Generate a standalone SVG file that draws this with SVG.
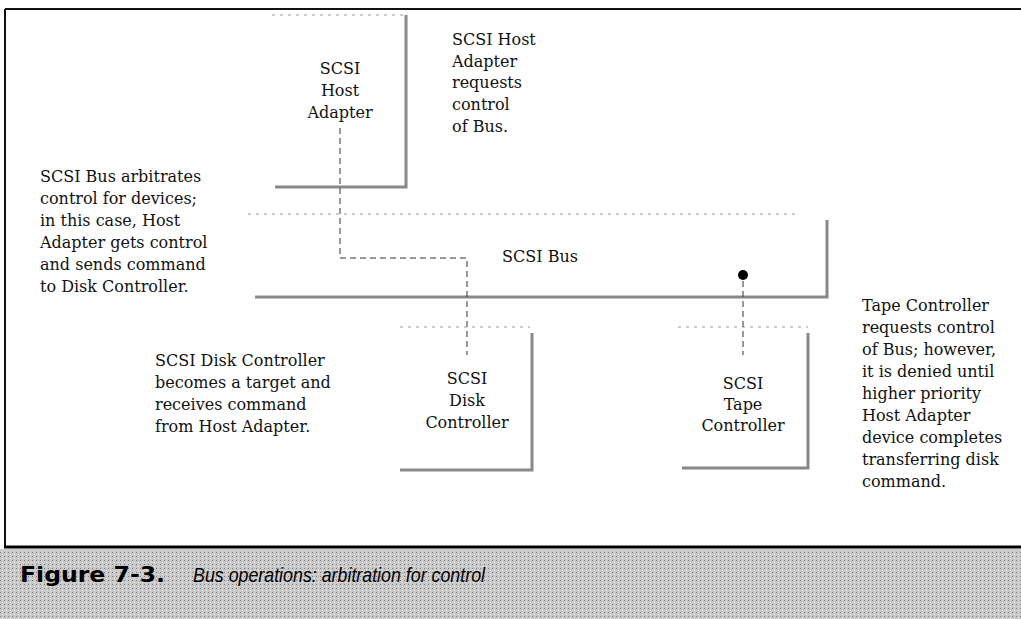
<svg xmlns="http://www.w3.org/2000/svg" width="1021" height="619" viewBox="0 0 1021 619">
<defs>
<style>
.t{font-family:"DejaVu Serif","Liberation Serif",serif;font-size:16px;fill:#111}
.c{text-anchor:middle}
.dot{stroke:#9a9a9a;stroke-width:1;stroke-dasharray:3 5;fill:none}
.sh{stroke:#888;stroke-width:3;fill:none}
.dash{stroke:#333;stroke-width:1;stroke-dasharray:6 4;fill:none}
.cap1{font-family:"DejaVu Sans","Liberation Sans",sans-serif;font-weight:bold;font-size:22px;fill:#000}
.cap2{font-family:"Liberation Sans","Arial",sans-serif;font-style:italic;font-size:21px;fill:#000}
</style>
<pattern id="ht" width="4" height="4" patternUnits="userSpaceOnUse">
<rect width="4" height="4" fill="#c8c8c8"/>
<rect x="0" y="0" width="1" height="1" fill="#7c7c7c"/>
<rect x="2" y="2" width="1" height="1" fill="#ececec"/>
</pattern>
</defs>
<rect width="1021" height="619" fill="#fff"/>
<g id="frame">
<line x1="5" y1="9" x2="1021" y2="9" stroke="#111" stroke-width="2"/>
<line x1="5" y1="9" x2="5" y2="548" stroke="#111" stroke-width="2"/>
</g>
<g id="caption">
<rect x="0" y="549" width="1021" height="70" fill="url(#ht)"/>
<line x1="4" y1="547" x2="1021" y2="547" stroke="#000" stroke-width="3"/>
<text class="cap1" x="20" y="582" textLength="145" lengthAdjust="spacingAndGlyphs">Figure 7-3.</text>
<text class="cap2" x="193" y="582" textLength="292" lengthAdjust="spacingAndGlyphs">Bus operations: arbitration for control</text>
</g>
<g id="host-adapter">
<line class="dot" x1="272" y1="15" x2="405" y2="15"/>
<path class="sh" d="M406,15 V187 H275"/>
<text class="t c" x="340" y="74">SCSI</text>
<text class="t c" x="340" y="96">Host</text>
<text class="t c" x="340" y="118">Adapter</text>
</g>
<g id="host-note">
<text class="t" x="452" y="45">SCSI Host</text>
<text class="t" x="452" y="67">Adapter</text>
<text class="t" x="452" y="88">requests</text>
<text class="t" x="452" y="110">control</text>
<text class="t" x="452" y="132">of Bus.</text>
</g>
<g id="scsi-bus">
<line class="dot" x1="248" y1="214" x2="800" y2="214"/>
<path class="sh" d="M827,220 V297 H255"/>
<text class="t c" x="540" y="262">SCSI Bus</text>
<circle cx="743" cy="275" r="5" fill="#000"/>
</g>
<g id="bus-note">
<text class="t" x="40" y="182">SCSI Bus arbitrates</text>
<text class="t" x="40" y="204">control for devices;</text>
<text class="t" x="40" y="226">in this case, Host</text>
<text class="t" x="40" y="248">Adapter gets control</text>
<text class="t" x="40" y="270">and sends command</text>
<text class="t" x="40" y="292">to Disk Controller.</text>
</g>
<g id="disk-controller">
<line class="dot" x1="400" y1="327" x2="530" y2="327"/>
<path class="sh" d="M532,333 V470 H400"/>
<text class="t c" x="467" y="384">SCSI</text>
<text class="t c" x="467" y="406">Disk</text>
<text class="t c" x="467" y="428">Controller</text>
</g>
<g id="disk-note">
<text class="t" x="155" y="366">SCSI Disk Controller</text>
<text class="t" x="155" y="388">becomes a target and</text>
<text class="t" x="155" y="410">receives command</text>
<text class="t" x="155" y="432">from Host Adapter.</text>
</g>
<g id="tape-controller">
<line class="dot" x1="678" y1="327" x2="808" y2="327"/>
<path class="sh" d="M808,333 V468 H682"/>
<text class="t c" x="743" y="389">SCSI</text>
<text class="t c" x="743" y="410">Tape</text>
<text class="t c" x="743" y="431">Controller</text>
</g>
<g id="tape-note">
<text class="t" x="862" y="311">Tape Controller</text>
<text class="t" x="862" y="333">requests control</text>
<text class="t" x="862" y="355">of Bus; however,</text>
<text class="t" x="862" y="377">it is denied until</text>
<text class="t" x="862" y="399">higher priority</text>
<text class="t" x="862" y="421">Host Adapter</text>
<text class="t" x="862" y="443">device completes</text>
<text class="t" x="862" y="465">transferring disk</text>
<text class="t" x="862" y="487">command.</text>
</g>
<g id="connectors">
<path class="dash" d="M340,128 V258 H467 V355"/>
<path class="dash" d="M743,281 V355"/>
</g>
</svg>
